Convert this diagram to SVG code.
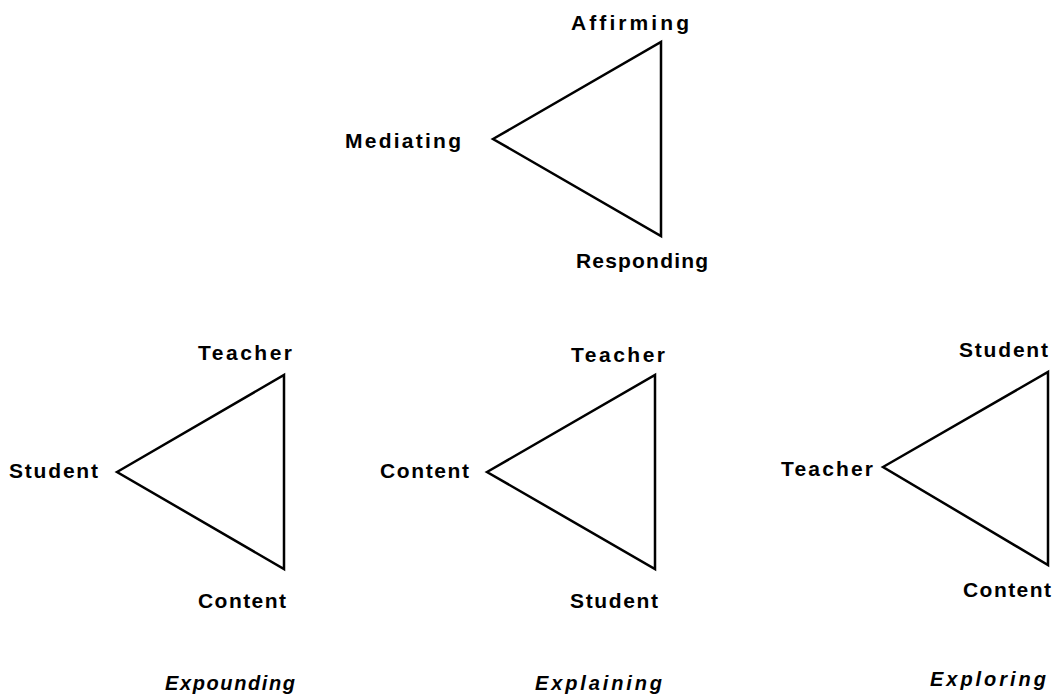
<svg xmlns="http://www.w3.org/2000/svg" width="1055" height="696" viewBox="0 0 1055 696">
<style>
.tri{fill:none;stroke:#000;stroke-width:2.5;stroke-linejoin:miter}
.lb{font-family:"Liberation Sans",Arial,sans-serif;font-size:21px;font-weight:bold;fill:#000}
.cap{font-family:"Liberation Sans",Arial,sans-serif;font-size:20px;font-style:italic;font-weight:bold;fill:#000}
</style>
<rect width="1055" height="696" fill="#fff"/>
<g id="connectors">
<polygon class="tri" points="493,139 661,42 661,236"/>
<polygon class="tri" points="117,472 284,375 284,569"/>
<polygon class="tri" points="487,472 655,375 655,569"/>
<polygon class="tri" points="883,467 1048,372 1048,565"/>
</g>
<g id="top-affirming"><text class="lb" x="571" y="30" textLength="118" lengthAdjust="spacing">Affirming</text></g>
<g id="top-mediating"><text class="lb" x="345" y="148" textLength="116" lengthAdjust="spacing">Mediating</text></g>
<g id="top-responding"><text class="lb" x="576" y="268" textLength="132" lengthAdjust="spacing">Responding</text></g>
<g id="t1-teacher"><text class="lb" x="198" y="360" textLength="94" lengthAdjust="spacing">Teacher</text></g>
<g id="t1-student"><text class="lb" x="9" y="478" textLength="89" lengthAdjust="spacing">Student</text></g>
<g id="t1-content"><text class="lb" x="198" y="608" textLength="88" lengthAdjust="spacing">Content</text></g>
<g id="t2-teacher"><text class="lb" x="571" y="362" textLength="94" lengthAdjust="spacing">Teacher</text></g>
<g id="t2-content"><text class="lb" x="380" y="478" textLength="89" lengthAdjust="spacing">Content</text></g>
<g id="t2-student"><text class="lb" x="570" y="608" textLength="88" lengthAdjust="spacing">Student</text></g>
<g id="t3-student"><text class="lb" x="959" y="357" textLength="89" lengthAdjust="spacing">Student</text></g>
<g id="t3-teacher"><text class="lb" x="781" y="476" textLength="92" lengthAdjust="spacing">Teacher</text></g>
<g id="t3-content"><text class="lb" x="963" y="597" textLength="88" lengthAdjust="spacing">Content</text></g>
<g id="cap-expounding"><text class="cap" x="165" y="690" textLength="130" lengthAdjust="spacing">Expounding</text></g>
<g id="cap-explaining"><text class="cap" x="535" y="690" textLength="127" lengthAdjust="spacing">Explaining</text></g>
<g id="cap-exploring"><text class="cap" x="930" y="686" textLength="116" lengthAdjust="spacing">Exploring</text></g>
</svg>
